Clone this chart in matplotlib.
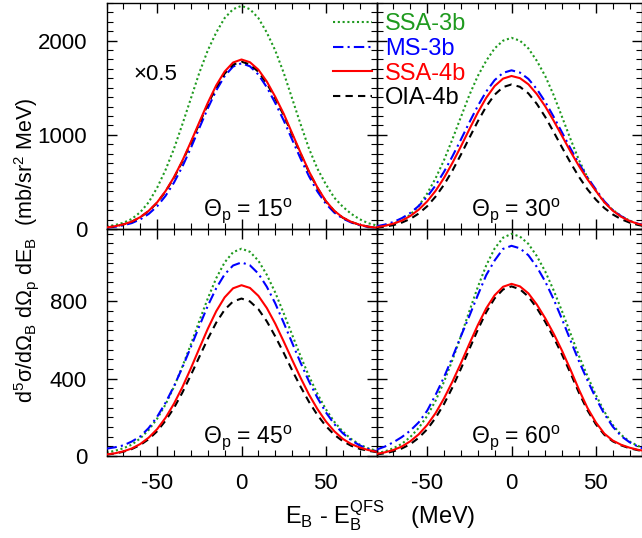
import matplotlib
matplotlib.use('Agg')
import matplotlib.pyplot as plt
from matplotlib.ticker import MultipleLocator, FixedLocator

plt.rcParams['font.family'] = ['Liberation Sans', 'DejaVu Sans']
plt.rcParams['mathtext.fontset'] = 'custom'
plt.rcParams['mathtext.rm'] = 'Liberation Sans'
plt.rcParams['mathtext.it'] = 'Liberation Sans:italic'
plt.rcParams['mathtext.default'] = 'regular'
plt.rcParams['axes.unicode_minus'] = False

# ---------------- data ----------------
energy = [-80, -75, -70, -65, -60, -55, -50, -45, -40, -35, -30, -25, -20, -15, -10, -5,
          0, 5, 10, 15, 20, 25, 30, 35, 40, 45, 50, 55, 60, 65, 70, 75, 80]

angles = [15, 30, 45, 60]
labels = ['SSA-3b', 'MS-3b', 'SSA-4b', 'OIA-4b']

# theta_p = 15 deg (already scaled x0.5)
ssa3b_15 = [28, 42, 66, 107, 178, 284, 438, 628, 853, 1114, 1386, 1659, 1896, 2086, 2240, 2334,
            2370, 2334, 2240, 2086, 1896, 1659, 1386, 1114, 853, 640, 474, 332, 237, 161, 104, 62, 38]
ms3b_15 = [14, 23, 39, 63, 102, 160, 241, 352, 493, 664, 861, 1072, 1280, 1471, 1624, 1725,
           1760, 1728, 1640, 1505, 1338, 1153, 950, 748, 560, 398, 268, 174, 111, 69, 40, 23, 14]
ssa4b_15 = [16, 29, 49, 79, 126, 193, 283, 403, 551, 727, 925, 1134, 1339, 1525, 1672, 1768,
            1800, 1771, 1692, 1566, 1404, 1224, 1017, 810, 612, 441, 297, 193, 122, 76, 45, 25, 14]
oia4b_15 = [16, 29, 48, 78, 124, 190, 279, 398, 544, 718, 913, 1119, 1322, 1505, 1650, 1745,
            1777, 1748, 1670, 1546, 1386, 1208, 1004, 800, 604, 435, 293, 190, 120, 75, 44, 25, 14]

# theta_p = 30 deg
ssa3b_30 = [24, 36, 57, 91, 152, 244, 376, 538, 731, 954, 1188, 1421, 1624, 1786, 1918, 2000,
            2030, 2000, 1918, 1786, 1624, 1421, 1188, 954, 731, 548, 406, 284, 203, 138, 89, 53, 32]
ms3b_30 = [29, 47, 74, 115, 170, 244, 342, 463, 607, 772, 949, 1131, 1306, 1459, 1581, 1658,
           1685, 1661, 1594, 1486, 1350, 1191, 1023, 853, 693, 548, 420, 295, 202, 135, 88, 56, 34]
ssa4b_30 = [20, 34, 57, 89, 138, 205, 293, 405, 543, 702, 876, 1058, 1235, 1393, 1518, 1597,
            1625, 1602, 1537, 1433, 1302, 1149, 986, 822, 668, 528, 405, 284, 195, 130, 85, 54, 33]
oia4b_30 = [14, 25, 41, 68, 107, 164, 241, 344, 470, 620, 789, 967, 1142, 1300, 1426, 1507,
            1535, 1510, 1440, 1329, 1190, 1030, 864, 703, 553, 422, 312, 223, 155, 104, 68, 43, 26]

# theta_p = 45 deg
ssa3b_45 = [18, 27, 40, 59, 91, 135, 193, 267, 358, 464, 578, 699, 815, 920, 1002, 1055,
            1073, 1057, 1011, 938, 846, 739, 628, 517, 413, 322, 242, 177, 127, 88, 59, 40, 27]
ms3b_45 = [38, 45, 55, 75, 101, 145, 203, 276, 361, 459, 564, 672, 777, 868, 940, 986,
           1002, 987, 944, 876, 790, 690, 586, 483, 386, 301, 226, 165, 118, 82, 55, 37, 25]
ssa4b_45 = [8, 14, 24, 39, 62, 95, 139, 198, 271, 357, 454, 557, 658, 749, 821, 868,
            884, 870, 829, 766, 685, 593, 498, 405, 318, 243, 179, 128, 89, 62, 44, 31, 22]
oia4b_45 = [7, 13, 22, 36, 57, 87, 128, 183, 249, 329, 419, 513, 606, 690, 757, 800,
            815, 800, 760, 697, 619, 534, 444, 359, 280, 212, 155, 110, 77, 53, 37, 27, 20]

# theta_p = 60 deg
ssa3b_60 = [14, 24, 40, 63, 98, 145, 207, 286, 384, 497, 620, 749, 874, 986, 1074, 1130,
            1150, 1136, 1098, 1035, 955, 857, 748, 633, 518, 414, 316, 230, 161, 109, 75, 52, 35]
ms3b_60 = [33, 49, 71, 98, 131, 174, 234, 316, 408, 511, 620, 724, 832, 936, 1012, 1072,
           1088, 1075, 1039, 979, 903, 811, 707, 598, 490, 392, 299, 218, 152, 103, 71, 49, 33]
ssa4b_60 = [11, 19, 31, 49, 76, 112, 160, 222, 298, 385, 480, 580, 677, 764, 832, 876,
            891, 878, 842, 784, 713, 633, 544, 446, 343, 249, 174, 116, 80, 58, 43, 32, 25]
oia4b_60 = [8, 14, 24, 39, 61, 94, 138, 197, 269, 355, 451, 553, 653, 744, 816, 862,
            878, 863, 825, 766, 694, 613, 524, 428, 327, 237, 164, 110, 76, 55, 40, 30, 23]

series = {
    15: [ssa3b_15, ms3b_15, ssa4b_15, oia4b_15],
    30: [ssa3b_30, ms3b_30, ssa4b_30, oia4b_30],
    45: [ssa3b_45, ms3b_45, ssa4b_45, oia4b_45],
    60: [ssa3b_60, ms3b_60, ssa4b_60, oia4b_60],
}

xticks = [-50, 0, 50]
yticks_top = [0, 1000, 2000]
yticks_bottom = [0, 400, 800]

# ---------------- styling ----------------
colors = ['#1f9a1f', '#0000ff', '#ff0000', '#000000']
styles = [(0, (1, 1.3)), (0, (5, 2, 1, 2)), '-', (0, (3.5, 2.5))]
zorders = [2, 3, 5, 4]
LW = 1.5
FS_TICK = 16
FS_LAB = 16.5
FS_YL = 15.5
FS_LEG = 17
FS_X = 17

W, H = 642.0, 538.0
fig = plt.figure(figsize=(W / 100, H / 100), dpi=100)


def rect(x0, y0, x1, y1):
    return [x0 / W, 1 - y1 / H, (x1 - x0) / W, (y1 - y0) / H]


xl0, xmid, xr1 = 106.5, 376.5, 641.5
yt0, ymid, yb1 = 3.0, 229.0, 456.0
ppm = (xmid - xl0) / 160.0  # pixels per MeV

panels = {
    15: fig.add_axes(rect(xl0, yt0, xmid, ymid)),
    30: fig.add_axes(rect(xmid, yt0, xr1, ymid)),
    45: fig.add_axes(rect(xl0, ymid, xmid, yb1)),
    60: fig.add_axes(rect(xmid, ymid, xr1, yb1)),
}

for ang, ax in panels.items():
    for k in range(4):
        ax.plot(energy, series[ang][k], color=colors[k], linestyle=styles[k],
                lw=LW, label=labels[k], zorder=zorders[k],
                dash_capstyle='butt')
    right = ang in (30, 60)
    top = ang in (15, 30)
    if right:
        ax.set_xlim(-80, -80 + (xr1 - xmid) / ppm)
    else:
        ax.set_xlim(-80, 80)
    if top:
        ax.set_ylim(0, 2400)
        ax.yaxis.set_major_locator(FixedLocator(yticks_top))
        ax.yaxis.set_minor_locator(MultipleLocator(100))
    else:
        ax.set_ylim(0, 1175)
        ax.yaxis.set_major_locator(FixedLocator(yticks_bottom))
        ax.yaxis.set_minor_locator(MultipleLocator(50))
    ax.xaxis.set_major_locator(FixedLocator(xticks))
    ax.xaxis.set_minor_locator(MultipleLocator(10))
    ax.tick_params(which='both', direction='in', top=True, right=True,
                   labelsize=FS_TICK, colors='black')
    ax.tick_params(which='major', length=7, width=1)
    ax.tick_params(which='minor', length=4, width=0.8)
    ax.tick_params(axis='x', pad=12)
    ax.tick_params(axis='y', pad=14)
    if right:
        ax.tick_params(labelleft=False)
    if top:
        ax.tick_params(labelbottom=False)
    for sp in ax.spines.values():
        sp.set_linewidth(1.0)
    ax.patch.set_visible(False)
    ax.text(0.357, 0.056, 'Θ$_\\mathrm{p}$ = %d$^\\mathrm{o}$' % ang,
            transform=ax.transAxes, fontsize=FS_LAB, ha='left', va='baseline')

panels[15].text(0.098, 0.66, '×0.5', transform=panels[15].transAxes,
                fontsize=FS_TICK, ha='left', va='baseline')

handles, labs = panels[30].get_legend_handles_labels()
leg = fig.legend(handles, labs, loc='upper left',
                 bbox_to_anchor=(333 / W, 1 - 13 / H), frameon=False,
                 fontsize=FS_LEG, handlelength=1.65, handletextpad=0.55,
                 labelspacing=0.12, borderpad=0, borderaxespad=0,
                 labelcolor='linecolor')

fig.text(27 / W, 1 - 250 / H,
         'd$^5$σ/dΩ$_\\mathrm{B}$ dΩ$_\\mathrm{p}$ dE$_\\mathrm{B}$  (mb/sr$^2$ MeV)',
         rotation=90, ha='center', va='center', fontsize=FS_YL)
fig.text(380 / W, 1 - 516 / H,
         'E$_\\mathrm{B}$ - E$_\\mathrm{B}^\\mathrm{QFS}$    (MeV)',
         ha='center', va='center', fontsize=FS_X)

fig.savefig('out.png', dpi=100)
